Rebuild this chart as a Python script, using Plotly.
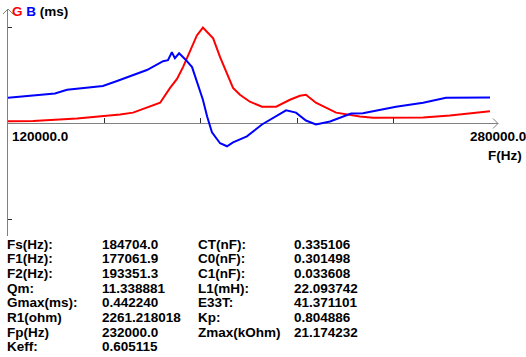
import plotly.graph_objects as go

# ---- data ----
g_freq = [120000, 128300, 142900, 151900, 157200, 161500, 167100, 170500, 173800, 176100,
          178100, 180400, 182700, 184700, 186400, 188100, 190400, 192700, 194700, 197000,
          200300, 204300, 209000, 213600, 216900, 218900, 222200, 228900, 236800, 241200,
          257800, 266700, 273400, 280000]
g_vals = [0.0105, 0.0114, 0.0228, 0.0333, 0.0410, 0.0501, 0.0775, 0.0957, 0.1641, 0.2052,
          0.2599, 0.3374, 0.4058, 0.4422, 0.4194, 0.3921, 0.3055, 0.2325, 0.1641, 0.1322,
          0.1003, 0.0775, 0.0775, 0.1094, 0.1277, 0.1322, 0.0957, 0.0501, 0.0319, 0.0260,
          0.0274, 0.0365, 0.0456, 0.0561]

b_freq = [120000, 128300, 135600, 139600, 146200, 151500, 156200, 161500, 166100, 171500,
          173100, 174400, 175400, 176800, 178800, 181100, 183100, 184700, 186100, 187700,
          190400, 192700, 194700, 199300, 204300, 208000, 212300, 215600, 218900, 222200,
          226900, 233900, 237800, 248800, 257800, 265400, 280000]
b_vals = [0.1185, 0.1277, 0.1381, 0.1550, 0.1641, 0.1732, 0.1960, 0.2234, 0.2462, 0.2872,
          0.2918, 0.3282, 0.3009, 0.3237, 0.2963, 0.2599, 0.1778, 0.1094, 0.0319, -0.0410,
          -0.0912, -0.1049, -0.0866, -0.0593, -0.0046, 0.0274, 0.0606, 0.0501, 0.0137, -0.0046,
          0.0091, 0.0456, 0.0470, 0.0775, 0.0957, 0.1185, 0.1199]

x_min, x_max = 120000, 280000
x_ticks = [152000, 184000, 216000, 248000, 280000]
gmax = 0.44224
x_min_label = "120000.0"
x_max_label = "280000.0"

labels1 = ["Fs(Hz):", "F1(Hz):", "F2(Hz):", "Qm:", "Gmax(ms):", "R1(ohm)", "Fp(Hz)", "Keff:"]
values1 = ["184704.0", "177061.9", "193351.3", "11.338881", "0.442240", "2261.218018",
           "232000.0", "0.605115"]
labels2 = ["CT(nF):", "C0(nF):", "C1(nF):", "L1(mH):", "E33T:", "Kp:", "Zmax(kOhm)"]
values2 = ["0.335106", "0.301498", "0.033608", "22.093742", "41.371101", "0.804886",
           "21.174232"]

# ---- layout geometry ----
W, H = 526, 357
ML, MR, MT, MB = 8, 36, 9, 121
PW, PH = W - ML - MR, H - MT - MB
y_top, y_bot = 0.5275, -0.5183
AX = "#808080"
FONT = "Liberation Sans"
FS = 13.5


def px(x):
    return (x - ML) / PW


def py(y):
    return (H - MB - y) / PH


zero_pos = (0 - y_bot) / (y_top - y_bot)

fig = go.Figure()
fig.add_trace(go.Scatter(x=g_freq, y=g_vals, mode="lines",
                         line=dict(color="#ff0000", width=2), showlegend=False))
fig.add_trace(go.Scatter(x=b_freq, y=b_vals, mode="lines",
                         line=dict(color="#0000ff", width=2), showlegend=False))

annotations = []


def txt(x, y, s, color="black", xanchor="left"):
    annotations.append(dict(x=px(x), y=py(y), xref="paper", yref="paper", text=s,
                            showarrow=False, xanchor=xanchor, yanchor="middle",
                            borderpad=0,
                            font=dict(family=FONT, size=FS, color=color, weight="bold")))


txt(11, 12, "<span style='color:#ff0000'>G</span> <span style='color:#0000ff'>B</span> (ms)")
txt(11, 136, x_min_label)
txt(527, 136, x_max_label, xanchor="right")
txt(487, 156, "F(Hz)")

row0, dy = 244, 14.7
for i, (l, v) in enumerate(zip(labels1, values1)):
    txt(6, row0 + i * dy, l)
    txt(101, row0 + i * dy, v)
for i, (l, v) in enumerate(zip(labels2, values2)):
    txt(197, row0 + i * dy, l)
    txt(293, row0 + i * dy, v)

shapes = [
    # top arrow of y axis
    dict(type="path", xref="paper", yref="paper", xsizemode="pixel", ysizemode="pixel",
         xanchor=0, yanchor=1, path="M -5,-5 L 0,0 L 5,-5",
         line=dict(color=AX, width=1)),
    # right arrow of x axis
    dict(type="path", xref="paper", yref="paper", xsizemode="pixel", ysizemode="pixel",
         xanchor=1, yanchor=zero_pos, path="M 3,5 L 8,0 L 3,-5",
         line=dict(color=AX, width=1)),
    # x axis extension to arrow tip
    dict(type="path", xref="paper", yref="paper", xsizemode="pixel", ysizemode="pixel",
         xanchor=1, yanchor=zero_pos, path="M 0,0 L 8,0",
         line=dict(color=AX, width=1)),
]

fig.update_layout(
    width=W, height=H,
    margin=dict(l=ML, r=MR, t=MT, b=MB),
    paper_bgcolor="white", plot_bgcolor="white",
    xaxis=dict(range=[x_min, x_max], showgrid=False, zeroline=False, showline=False,
               tickvals=x_ticks, ticks="inside", ticklen=5, tickcolor="#303030",
               showticklabels=False, anchor="free", position=zero_pos),
    yaxis=dict(range=[y_bot, y_top], showgrid=False, zeroline=True, zerolinecolor=AX,
               zerolinewidth=1, showline=True, linecolor=AX, linewidth=1,
               tickvals=[gmax, -gmax], ticks="inside", ticklen=4, tickcolor="#303030",
               showticklabels=False),
    annotations=annotations,
    shapes=shapes,
)

fig.write_html("out.html", config={"displayModeBar": False},
               post_script="document.body.style.margin='0px';")
